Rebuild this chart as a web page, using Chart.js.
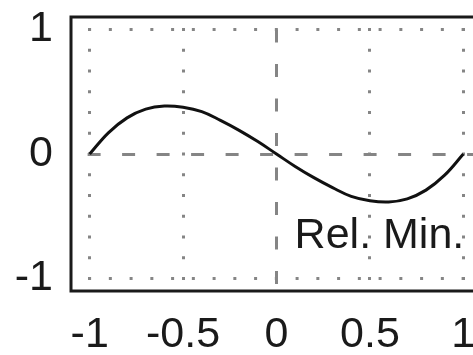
<!DOCTYPE html>
<html>
<head>
<meta charset="utf-8">
<script src="https://cdn.jsdelivr.net/npm/chart.js@4.4.0/dist/chart.umd.min.js"></script>
<style>
  html, body { margin: 0; padding: 0; background: #fff; overflow: hidden; }
  #wrap { width: 473px; height: 355px; overflow: hidden; }
</style>
</head>
<body>
<div id="wrap"><canvas id="chart" width="500" height="355"></canvas></div>
<script>
// curve (x, y)
const xValues = [-1, -0.9, -0.8, -0.7, -0.6, -0.5, -0.4, -0.3, -0.2, -0.1, 0,
                 0.1, 0.2, 0.3, 0.4, 0.5, 0.6, 0.7, 0.8, 0.9, 1];
const yValues = [0, 0.17, 0.29, 0.36, 0.385, 0.375, 0.34, 0.27, 0.19, 0.10, 0,
                 -0.10, -0.19, -0.27, -0.34, -0.375, -0.385, -0.36, -0.29, -0.17, 0];

// axis ticks
const xTicks = [-1, -0.5, 0, 0.5, 1];
const yTicks = [-1, 0, 1];
const axisMin = -1.1;
const axisMax = 1.1;

// label in the plot
const noteText = 'Rel. Min.';
const noteX = 0.097;
const noteY = -0.755;

const FONT = 'Liberation Sans, Arial, sans-serif';
const INK = '#1a1a1a';
const GRID = '#858585';

// dotted grid lines, dashed at zero
function gridDash(ctx) {
    if (ctx.tick && ctx.tick.value === 0) return [13, 21.5];
    return [3, 17.75];
}

// draws the box round the plot
const framePlugin = {
    id: 'frame',
    afterDraw(chart) {
        const a = chart.chartArea;
        const c = chart.ctx;
        c.save();
        c.strokeStyle = INK;
        c.lineWidth = 3;
        c.strokeRect(a.left, a.top, a.right - a.left, a.bottom - a.top);
        c.restore();
    }
};

// text note placed with the scales
const notePlugin = {
    id: 'note',
    afterDatasetsDraw(chart) {
        const c = chart.ctx;
        const px = chart.scales.x.getPixelForValue(noteX);
        const py = chart.scales.y.getPixelForValue(noteY);
        c.save();
        c.font = '43px ' + FONT;
        c.fillStyle = INK;
        c.textAlign = 'left';
        c.textBaseline = 'alphabetic';
        c.fillText(noteText, px, py);
        c.restore();
    }
};

const points = xValues.map((x, i) => ({ x: x, y: yValues[i] }));

new Chart(document.getElementById('chart').getContext('2d'), {
    type: 'line',
    data: {
        datasets: [{
            data: points,
            borderColor: '#111',
            borderWidth: 3,
            pointRadius: 0,
            tension: 0.4,
            fill: false
        }]
    },
    options: {
        responsive: false,
        animation: false,
        layout: { padding: { top: 17, right: 18, left: 0, bottom: 0 } },
        plugins: {
            legend: { display: false },
            tooltip: { enabled: false }
        },
        scales: {
            x: {
                type: 'linear',
                min: axisMin,
                max: axisMax,
                afterBuildTicks: s => { s.ticks = xTicks.map(v => ({ value: v })); },
                afterFit: s => { s.height = 64; s.paddingLeft = 0; s.paddingRight = 0; },
                border: {
                    display: false,
                    dash: gridDash,
                    dashOffset: ctx => (ctx.tick && ctx.tick.value === 0) ? 22 : 9.75
                },
                grid: { color: GRID, lineWidth: 3, drawTicks: false },
                ticks: {
                    color: INK,
                    padding: 18,
                    font: { family: FONT, size: 43 },
                    callback: v => String(v)
                }
            },
            y: {
                type: 'linear',
                min: axisMin,
                max: axisMax,
                afterBuildTicks: s => { s.ticks = yTicks.map(v => ({ value: v })); },
                afterFit: s => { s.width = 71; s.paddingTop = 0; s.paddingBottom = 0; },
                border: {
                    display: false,
                    dash: gridDash,
                    dashOffset: ctx => (ctx.tick && ctx.tick.value === 0) ? 17.9 : 3.65
                },
                grid: { color: GRID, lineWidth: 3, drawTicks: false },
                ticks: {
                    color: INK,
                    padding: 18,
                    font: { family: FONT, size: 43 },
                    callback: v => String(v)
                }
            }
        }
    },
    plugins: [framePlugin, notePlugin]
});
</script>
</body>
</html>
